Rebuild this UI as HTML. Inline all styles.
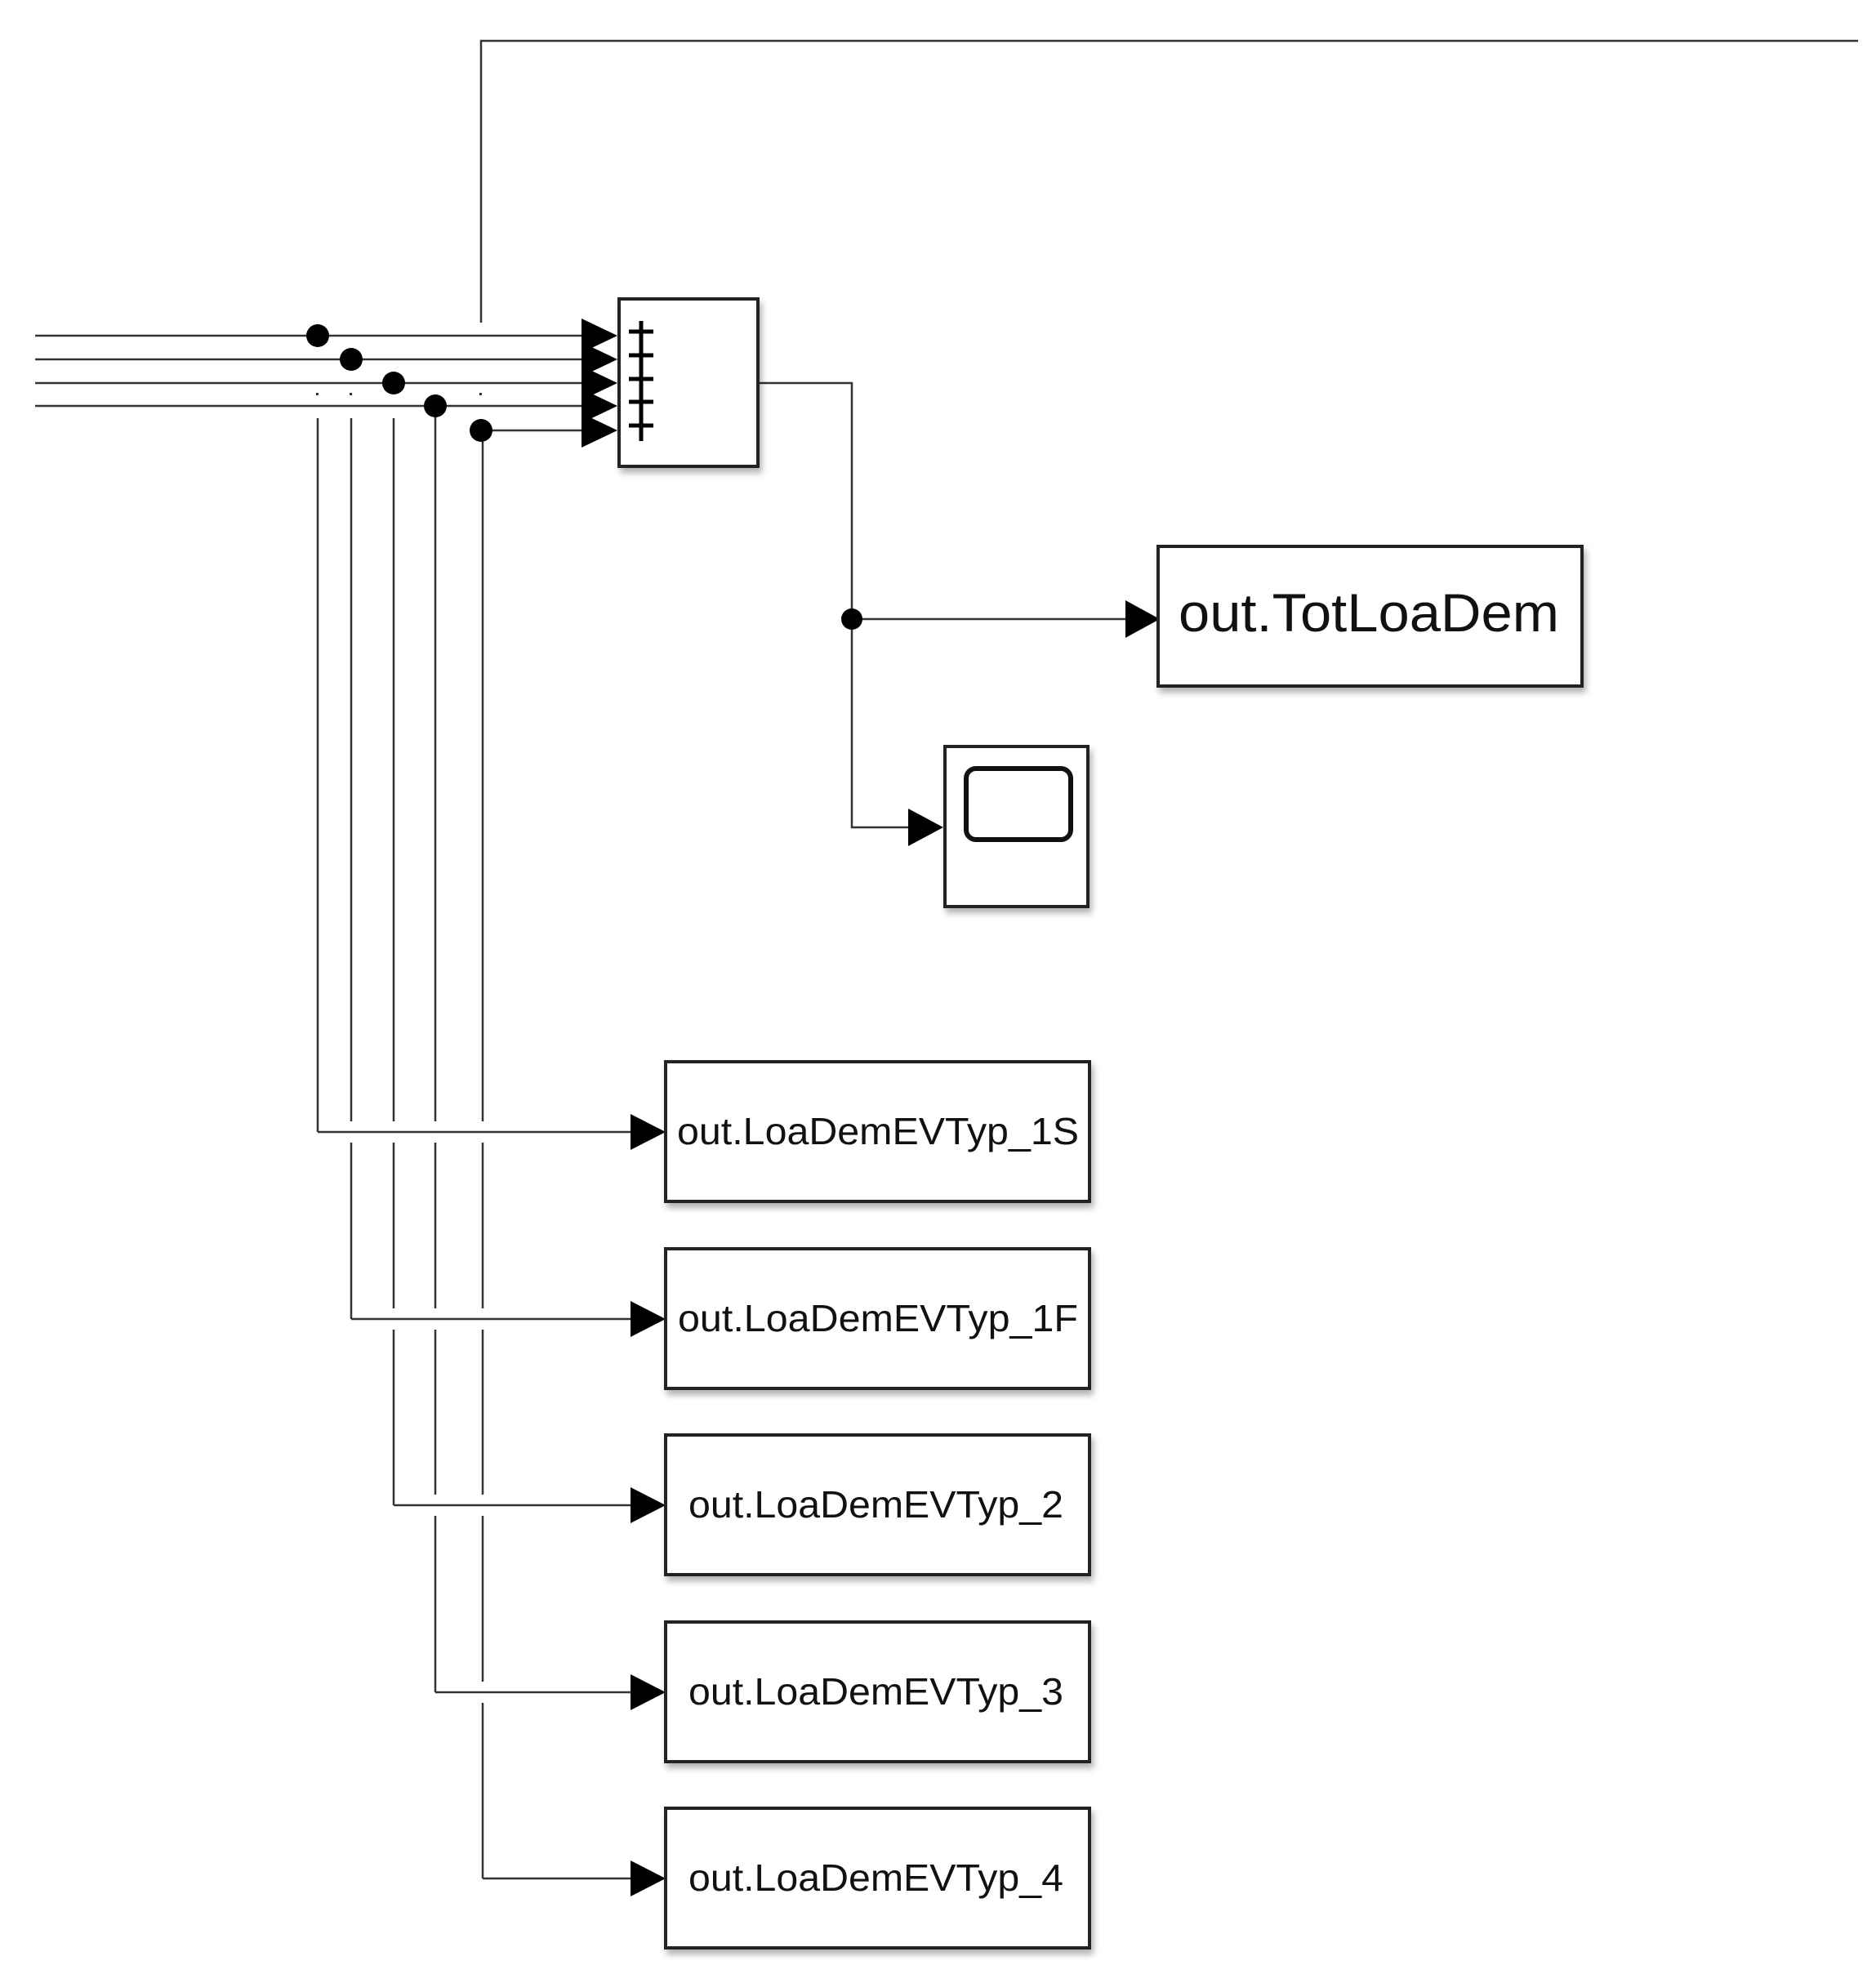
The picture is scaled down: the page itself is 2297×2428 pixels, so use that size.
<!DOCTYPE html>
<html><head><meta charset="utf-8"><style>
html,body{margin:0;padding:0;background:#fff;}
svg{display:block;}
text{font-family:"Liberation Sans",Arial,sans-serif;fill:#111;}
</style></head><body>
<svg width="2297" height="2428" viewBox="0 0 2297 2428" xmlns="http://www.w3.org/2000/svg">
<defs>
<filter id="sh" x="-10%" y="-10%" width="130%" height="140%"><feDropShadow dx="3" dy="6" stdDeviation="4" flood-color="#000" flood-opacity="0.3"/></filter>
</defs>
<g stroke="#333" stroke-width="2.5" fill="none">
<polyline points="589,395 589,50 2275,50"/>
<line x1="43" y1="411" x2="712" y2="411"/>
<line x1="43" y1="440" x2="712" y2="440"/>
<line x1="43" y1="469" x2="712" y2="469"/>
<line x1="43" y1="497" x2="712" y2="497"/>
<line x1="589" y1="527" x2="712" y2="527"/>
<!-- verticals -->
<line x1="389" y1="512" x2="389" y2="1386"/>
<line x1="430" y1="512" x2="430" y2="1615"/>
<line x1="482" y1="512" x2="482" y2="1843"/>
<line x1="533" y1="497" x2="533" y2="2072"/>
<line x1="591" y1="527" x2="591" y2="2300"/>
<polyline points="928,469 1043,469 1043,1013 1120,1013"/>
<line x1="1043" y1="758" x2="1385" y2="758"/>
</g>
<!-- vertical line hop gaps -->
<g fill="#fff">
<rect x="426" y="1373" width="8" height="26"/>
<rect x="478" y="1373" width="8" height="26"/><rect x="478" y="1602" width="8" height="26"/>
<rect x="529" y="1373" width="8" height="26"/><rect x="529" y="1602" width="8" height="26"/><rect x="529" y="1830" width="8" height="26"/>
<rect x="587" y="1373" width="8" height="26"/><rect x="587" y="1602" width="8" height="26"/><rect x="587" y="1830" width="8" height="26"/><rect x="587" y="2059" width="8" height="26"/>
</g>
<!-- horizontals to outputs -->
<g stroke="#333" stroke-width="2.5" fill="none">
<line x1="389" y1="1386" x2="775" y2="1386"/>
<line x1="430" y1="1615" x2="775" y2="1615"/>
<line x1="482" y1="1843" x2="775" y2="1843"/>
<line x1="533" y1="2072" x2="775" y2="2072"/>
<line x1="591" y1="2300" x2="775" y2="2300"/>
</g>
<g fill="#333">
<rect x="387" y="481" width="3" height="3"/><rect x="428" y="481" width="3" height="3"/><rect x="587" y="481" width="3" height="3"/>
</g>
<g fill="#000">
<ellipse cx="389" cy="411" rx="14" ry="14"/>
<ellipse cx="430" cy="440" rx="14" ry="14"/>
<ellipse cx="482" cy="469" rx="14" ry="14"/>
<ellipse cx="533" cy="497" rx="14" ry="14"/>
<ellipse cx="589" cy="527" rx="14" ry="14"/>
<ellipse cx="1043" cy="758" rx="13" ry="13"/>
<polygon points="712,390 756,411 712,432"/>
<polygon points="712,419 756,440 712,461"/>
<polygon points="712,448 756,469 712,490"/>
<polygon points="712,476 756,497 712,518"/>
<polygon points="712,506 756,527 712,548"/>
<polygon points="1378,735 1420,758 1378,781"/>
<polygon points="1112,990 1155,1013 1112,1036"/>
<polygon points="772,1364 815,1386 772,1408"/>
<polygon points="772,1593 815,1615 772,1637"/>
<polygon points="772,1821 815,1843 772,1865"/>
<polygon points="772,2050 815,2072 772,2094"/>
<polygon points="772,2278 815,2300 772,2322"/>
</g>
<g fill="#fff" stroke="#222" stroke-width="4" filter="url(#sh)">
<rect x="758" y="366" width="170" height="205"/>
<rect x="1418" y="669" width="519" height="171"/>
<rect x="1157" y="914" width="175" height="196"/>
<rect x="815" y="1300" width="519" height="171"/>
<rect x="815" y="1529" width="519" height="171"/>
<rect x="815" y="1757" width="519" height="171"/>
<rect x="815" y="1986" width="519" height="171"/>
<rect x="815" y="2214" width="519" height="171"/>
</g>
<g stroke="#000" stroke-width="5">
<line x1="785" y1="393" x2="785" y2="540"/>
<line x1="770" y1="406" x2="800" y2="406"/>
<line x1="770" y1="435" x2="800" y2="435"/>
<line x1="770" y1="464" x2="800" y2="464"/>
<line x1="770" y1="492" x2="800" y2="492"/>
<line x1="770" y1="521" x2="800" y2="521"/>
</g>
<rect x="1183" y="941" width="128" height="87" rx="12" fill="none" stroke="#111" stroke-width="6"/>
<text x="1443" y="773" font-size="66" textLength="466" lengthAdjust="spacingAndGlyphs">out.TotLoaDem</text>
<text x="829" y="1401" font-size="46" textLength="492" lengthAdjust="spacingAndGlyphs">out.LoaDemEVTyp_1S</text>
<text x="830" y="1630" font-size="46" textLength="490" lengthAdjust="spacingAndGlyphs">out.LoaDemEVTyp_1F</text>
<text x="843" y="1858" font-size="46" textLength="459" lengthAdjust="spacingAndGlyphs">out.LoaDemEVTyp_2</text>
<text x="843" y="2087" font-size="46" textLength="459" lengthAdjust="spacingAndGlyphs">out.LoaDemEVTyp_3</text>
<text x="843" y="2315" font-size="46" textLength="459" lengthAdjust="spacingAndGlyphs">out.LoaDemEVTyp_4</text>
</svg>
</body></html>
